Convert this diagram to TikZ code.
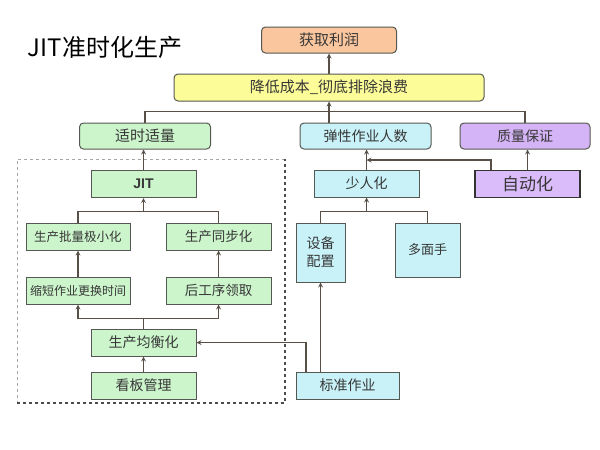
\documentclass[tikz,border=0pt]{standalone}
\usepackage{fontspec}
\setmainfont{Noto Sans CJK SC}
\newfontfamily\arialfont{Liberation Sans}
\usetikzlibrary{arrows.meta, calc}

\definecolor{orange1}{RGB}{250,198,158}
\definecolor{yellow1}{RGB}{252,252,152}
\definecolor{green1}{RGB}{204,245,204}
\definecolor{cyan1}{RGB}{200,242,248}
\definecolor{violet1}{RGB}{212,180,246}
\definecolor{violet2}{RGB}{218,188,250}
\definecolor{boxline}{RGB}{85,88,82}
\definecolor{wire}{RGB}{88,80,70}
\definecolor{txt}{RGB}{55,55,55}

\begin{document}
\begin{tikzpicture}[
    x=1pt, y=-1pt,
    goal/.style={rectangle, rounded corners=4pt, draw=boxline, line width=1pt, minimum height=26pt, inner sep=0pt, text=txt, font=\fontsize{14}{17}\selectfont},
    cell/.style={rectangle, draw=boxline, line width=1pt, minimum height=27pt, inner sep=0pt, text=txt, font=\fontsize{13.5}{16}\selectfont},
    bus/.style={draw=wire, line width=1.2pt},
    link/.style={->, >=stealth, draw=wire, line width=1.2pt}
]
\useasboundingbox (0,0) rectangle (600,450);

% ================= TITLE =================
\node[font=\fontsize{24}{28}\selectfont] (title) at (105,47) {JIT准时化生产};

% ================= TOP LEVELS =================
\node[goal, fill=orange1, minimum width=135pt, font=\fontsize{15}{18}\selectfont] (profit) at (329,40) {获取利润};
\node[goal, fill=yellow1, minimum width=310pt, minimum height=27pt, font=\fontsize{15}{18}\selectfont] (cost) at (329,87.5) {降低成本\_彻底排除浪费};

\node[goal, fill=green1, minimum width=131pt, font=\fontsize{15}{18}\selectfont] (jitqty) at (145,136) {适时适量};
\node[goal, fill=cyan1, minimum width=131pt] (flex) at (365.5,136) {弹性作业人数};
\node[goal, fill=violet1, minimum width=130pt] (quality) at (525,136) {质量保证};

\draw[link] (cost) -- (cost |- profit.south);
\draw[bus] (jitqty.north) -- ++(0,-11) -| (quality.north);
\draw[link] (flex.north -| cost.south) -- (cost.south);

% ================= JIT BRANCH =================
\node[cell, fill=green1, minimum width=105pt, font=\arialfont\bfseries\fontsize{14}{16}\selectfont] (jit) at (143.5,184) {JIT};
\node[cell, fill=green1, minimum width=104pt, font=\fontsize{12.5}{15}\selectfont] (batch) at (78,236.5) {生产批量极小化};
\node[cell, fill=green1, minimum width=105pt] (sync) at (218.5,236.5) {生产同步化};
\node[cell, fill=green1, minimum width=104pt, font=\fontsize{12}{14}\selectfont] (setup) at (78,290.5) {缩短作业更换时间};
\node[cell, fill=green1, minimum width=105pt] (pull) at (218.5,290.5) {后工序领取};
\node[cell, fill=green1, minimum width=105pt, font=\fontsize{14}{16}\selectfont] (level) at (143.5,342.5) {生产均衡化};
\node[cell, fill=green1, minimum width=105pt, font=\fontsize{14}{16}\selectfont] (kanban) at (143.5,385.5) {看板管理};

\draw[link] (jit) -- (jit |- jitqty.south);
\coordinate (jitbus) at (143.5,212);
\draw[bus] (batch.north) -- ++(0,-11) -| (sync.north);
\draw[link] (jitbus) -- (jit);
\draw[link] (setup) -- (batch);
\draw[link] (pull) -- (sync);
\draw[link] (level.north) -- ++(0,-10) -| (setup.south);
\draw[link] (level.north) -- ++(0,-10) -| (pull.south);
\draw[link] (kanban) -- (level);

% dashed frame
\draw[gray!70, dashed, line width=1pt] (285,159) -- (17,159) -- (17,403);
\draw[black!70, dashed, line width=1.6pt] (17,403) -- (285,403) -- (285,159);

% ================= PEOPLE / QUALITY =================
\node[cell, fill=cyan1, minimum width=105pt, font=\fontsize{14}{16}\selectfont] (fewer) at (366.5,183.5) {少人化};
\node[cell, fill=violet2, draw=black!80, line width=1.8pt, minimum width=105pt, font=\fontsize{17}{20}\selectfont] (jidoka) at (527.5,184) {自动化};
\node[cell, fill=cyan1, minimum width=49pt, minimum height=59pt, align=center, font=\fontsize{14}{18}\selectfont] (layout) at (320.5,252.5) {设备\\配置};
\node[cell, fill=cyan1, minimum width=65pt, minimum height=54pt, font=\fontsize{13}{16}\selectfont] (multi) at (427.5,250) {多面手};
\node[cell, fill=cyan1, minimum width=103pt, font=\fontsize{14}{16}\selectfont] (standard) at (347.5,385.5) {标准作业};

\draw[bus] (layout.north) -- ++(0,-11) -| (multi.north);
\coordinate (fewbus) at (366.5,212);
\draw[link] (fewbus) -- (fewer);
\draw[link] (fewer) -- (fewer |- flex.south);
\coordinate (flexin) at (366.5,160);
\draw[link] ([xshift=-36.5pt]jidoka.north) |- (flexin);
\draw[link] (jidoka) -- (jidoka |- quality.south);
\draw[link] (standard.north -| layout.south) -- (layout.south);
\draw[link] ([xshift=-41.5pt]standard.north) |- (level.east);

\end{tikzpicture}
\end{document}
